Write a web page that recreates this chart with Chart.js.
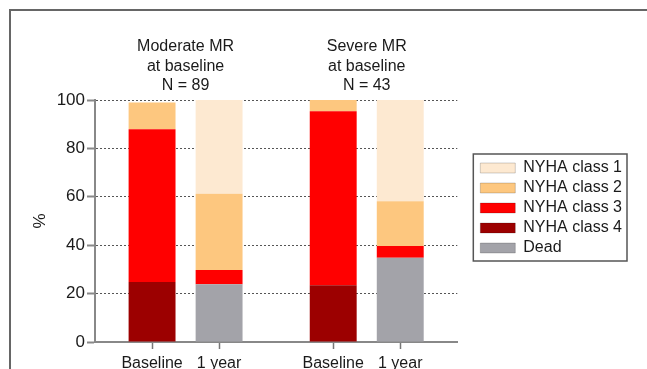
<!DOCTYPE html>
<html>
<head>
<meta charset="utf-8">
<script src="https://cdn.jsdelivr.net/npm/chart.js@4"></script>
<style>
  html, body { margin: 0; padding: 0; background: #fff; }
  #wrap { width: 647px; height: 369px; }
</style>
</head>
<body>
<div id="wrap"><canvas id="nyhaChart" width="647" height="369"></canvas></div>
<script>
// ---- data (percent of patients) ----
const groups = ['Moderate MR', 'Severe MR'];
const groupTitles = [['Moderate MR', 'at baseline', 'N = 89'], ['Severe MR', 'at baseline', 'N = 43']];
const timepoints = ['Baseline', '1 year'];
const yTicks = [0, 20, 40, 60, 80, 100];

// values: [moderate, severe]
const deadBaseline = [0, 0];
const deadYear = [23.9, 34.8];
const nyha4Baseline = [24.8, 23.4];
const nyha4Year = [0, 0];
const nyha3Baseline = [63.1, 71.9];
const nyha3Year = [5.9, 4.9];
const nyha2Baseline = [11.1, 4.7];
const nyha2Year = [31.5, 18.5];
const nyha1Baseline = [0, 0];
const nyha1Year = [38.7, 41.8];

// bottom -> top stacking order
const series = [
    { label: 'Dead',         color: '#a3a3a9', values: [deadBaseline, deadYear] },
    { label: 'NYHA class 4', color: '#9c0000', values: [nyha4Baseline, nyha4Year] },
    { label: 'NYHA class 3', color: '#ff0000', values: [nyha3Baseline, nyha3Year] },
    { label: 'NYHA class 2', color: '#fdc77f', values: [nyha2Baseline, nyha2Year] },
    { label: 'NYHA class 1', color: '#fde9d1', values: [nyha1Baseline, nyha1Year] }
];

const FONT = '"Liberation Sans", Arial, sans-serif';
Chart.defaults.font.family = FONT;
Chart.defaults.color = '#1a1a1a';

const datasets = [];
series.forEach(s => {
    timepoints.forEach((t, ti) => {
        datasets.push({
            label: s.label,
            stack: t,
            data: s.values[ti],
            backgroundColor: s.color,
            borderWidth: 0,
            categoryPercentage: 0.74,
            barPercentage: 0.70
        });
    });
});

// labels + tick marks under each bar (one per stack)
const barLabels = {
    id: 'barLabels',
    afterDraw(chart) {
        const ctx = chart.ctx;
        const bottom = chart.chartArea.bottom;
        ctx.save();
        ctx.font = '16px ' + FONT;
        ctx.fillStyle = '#1a1a1a';
        ctx.textAlign = 'center';
        ctx.textBaseline = 'alphabetic';
        ctx.strokeStyle = '#777';
        ctx.lineWidth = 1.5;
        timepoints.forEach(t => {
            const idx = chart.data.datasets.findIndex(d => d.stack === t);
            chart.getDatasetMeta(idx).data.forEach(bar => {
                const x = Math.round(bar.x) + 0.5;
                ctx.beginPath();
                ctx.moveTo(x, bottom + 1);
                ctx.lineTo(x, bottom + 7);
                ctx.stroke();
                ctx.fillText(t, bar.x, bottom + 26);
            });
        });
        ctx.restore();
    }
};

// box round the legend and the page frame
const frames = {
    id: 'frames',
    afterDraw(chart) {
        const ctx = chart.ctx;
        const boxes = chart.legend.legendHitBoxes;
        const left = Math.min(...boxes.map(b => b.left));
        const top = Math.min(...boxes.map(b => b.top));
        const right = Math.max(...boxes.map(b => b.left + b.width));
        const bottom = Math.max(...boxes.map(b => b.top + b.height));
        ctx.save();
        ctx.strokeStyle = '#555';
        ctx.lineWidth = 1.5;
        ctx.strokeRect(left - 7, top - 6, right - left + 12, bottom - top + 11);
        ctx.strokeStyle = '#666';
        ctx.lineWidth = 2;
        ctx.beginPath();
        ctx.moveTo(10, chart.height);
        ctx.lineTo(10, 10);
        ctx.lineTo(chart.width, 10);
        ctx.stroke();
        ctx.restore();
    }
};

new Chart(document.getElementById('nyhaChart'), {
    type: 'bar',
    data: { labels: groups, datasets: datasets },
    plugins: [barLabels, frames],
    options: {
        responsive: false,
        animation: false,
        devicePixelRatio: 1,
        layout: { padding: { left: 0, top: 0, right: 15, bottom: 0 } },
        plugins: {
            tooltip: { enabled: false },
            legend: {
                position: 'right',
                align: 'start',
                fullSize: false,
                reverse: true,
                maxWidth: 200,
                title: { display: true, text: '', padding: 0, font: { size: 56, lineHeight: 1 } },
                labels: {
                    boxWidth: 35,
                    boxHeight: 10,
                    padding: 4,
                    color: '#1a1a1a',
                    font: { size: 16, family: FONT },
                    filter: item => datasets[item.datasetIndex].stack === timepoints[0],
                    generateLabels(chart) {
                        return Chart.defaults.plugins.legend.labels.generateLabels(chart).map(l => {
                            l.strokeStyle = 'rgba(0,0,0,0.18)';
                            l.lineWidth = 1;
                            return l;
                        });
                    }
                }
            }
        },
        scales: {
            x: {
                stacked: true,
                grid: { display: false },
                border: { display: true, color: '#888', width: 2 },
                ticks: { display: false },
                afterFit: s => { s.height = 27; }
            },
            x2: {
                type: 'category',
                position: 'top',
                labels: groupTitles,
                offset: true,
                grid: { display: false, drawTicks: false },
                border: { display: false },
                ticks: { padding: 5, color: '#1a1a1a', font: { size: 16, lineHeight: 1.2 } },
                afterFit: s => { s.height = 100; }
            },
            y: {
                stacked: true,
                min: 0,
                max: 100,
                afterBuildTicks: s => { s.ticks = yTicks.map(v => ({ value: v })); },
                ticks: { padding: 2, color: '#1a1a1a', font: { size: 17 } },
                grid: {
                    color: c => (c.tick && c.tick.value === 0) ? 'rgba(0,0,0,0)' : '#555',
                    lineWidth: 1,
                    tickColor: '#888',
                    tickWidth: 2,
                    tickLength: 8,
                    tickBorderDash: []
                },
                border: { display: true, color: '#888', width: 2, dash: [2, 2] },
                title: { display: true, text: '%', color: '#1a1a1a', font: { size: 17 }, padding: { top: 30, bottom: 0 } },
                afterFit: s => { s.width = 95; }
            },
            spacer: {
                type: 'linear',
                position: 'right',
                grid: { display: false },
                border: { display: false },
                ticks: { display: false },
                afterFit: s => { s.width = 19; }
            }
        }
    }
});
</script>
</body>
</html>
